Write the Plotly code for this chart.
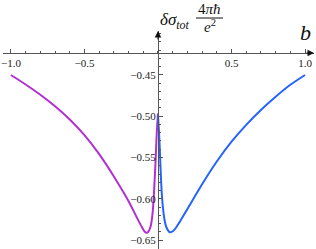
import plotly.graph_objects as go

# ---- data ----
purple_b = [-1.0, -0.9, -0.8, -0.7, -0.6, -0.5, -0.4, -0.3, -0.2, -0.143,
            -0.109, -0.09, -0.075, -0.064, -0.048, -0.037, -0.030, -0.023, -0.016,
            -0.011, -0.005, 0.0]
purple_v = [-0.450, -0.4615, -0.474, -0.488, -0.504, -0.523, -0.546, -0.573, -0.603, -0.623,
            -0.6345, -0.640, -0.6412, -0.6395, -0.632, -0.618, -0.602, -0.578, -0.553,
            -0.530, -0.510, -0.4965]
blue_b = [0.0, 0.005, 0.010, 0.015, 0.020, 0.027, 0.035, 0.045, 0.057, 0.080, 0.107, 0.148,
          0.2, 0.3, 0.4, 0.5, 0.6, 0.7, 0.8, 0.9, 1.0]
blue_v = [-0.4985, -0.513, -0.530, -0.552, -0.574, -0.597, -0.613, -0.626, -0.6345, -0.6405, -0.6385, -0.628,
          -0.6124, -0.5824, -0.5549, -0.5309, -0.5104, -0.4924, -0.4764, -0.4619, -0.450]
x_ticks = [-1.0, -0.5, 0.5, 1.0]
x_ticktext = ["\u22121.0", "\u22120.5", "0.5", "1.0"]
y_ticks = [-0.45, -0.50, -0.55, -0.60, -0.65]

# ---- layout geometry ----
W, H = 316, 249
ML, MR, MT, MB = 3, 2, 31, 0
XR = [-1.054, 1.061]
YR = [-0.6609, -0.3967]
x_axis_at = -0.4233
pw, ph = W - ML - MR, H - MT - MB

def px(x):
    return (x - ML) / pw

def py(y):
    return (H - MB - y) / ph

FONT = "Liberation Serif"
AX = "#555555"
TXT = "#1a1a1a"

fig = go.Figure()
fig.add_trace(go.Scatter(x=purple_b, y=purple_v, mode="lines",
                         line=dict(color="#B22FD2", width=2, shape="spline", smoothing=0.8),
                         hoverinfo="skip"))
fig.add_trace(go.Scatter(x=blue_b, y=blue_v, mode="lines",
                         line=dict(color="#2563FF", width=2, shape="spline", smoothing=0.8),
                         hoverinfo="skip"))

fig.update_layout(
    width=W, height=H, margin=dict(l=ML, r=MR, t=MT, b=MB, autoexpand=False),
    plot_bgcolor="white", paper_bgcolor="white", showlegend=False,
    font=dict(family=FONT, size=11, color=TXT),
    xaxis=dict(range=XR, anchor="free", position=(x_axis_at - YR[0]) / (YR[1] - YR[0]),
               automargin=False,
               showgrid=False, zeroline=False, showline=True, linecolor=AX, linewidth=1,
               tickmode="array", tickvals=x_ticks, ticktext=x_ticktext,
               ticks="inside", ticklen=4, tickcolor=AX,
               minor=dict(ticks="inside", ticklen=2, tickcolor=AX, tickmode="linear",
                          tick0=0, dtick=0.1, showgrid=False),
               tickfont=dict(family=FONT, size=11, color=TXT)),
    yaxis=dict(range=YR, anchor="free", position=(0 - XR[0]) / (XR[1] - XR[0]),
               automargin=False,
               showgrid=False, zeroline=False, showline=True, linecolor=AX, linewidth=1,
               tickmode="array", tickvals=y_ticks, tickformat=".2f",
               ticks="inside", ticklen=4, tickcolor=AX,
               minor=dict(ticks="inside", ticklen=2, tickcolor=AX, tickmode="linear",
                          tick0=-0.45, dtick=0.01, showgrid=False),
               tickfont=dict(family=FONT, size=11, color=TXT)),
)

# axis arrows
fig.add_annotation(x=XR[1], y=x_axis_at, xref="x", yref="y", ax=-9, ay=0, text="",
                   showarrow=True, arrowhead=2, arrowsize=1.3, arrowwidth=1, arrowcolor="#111111")
fig.add_annotation(x=0, y=YR[1], xref="x", yref="y", ax=0, ay=10, text="",
                   showarrow=True, arrowhead=2, arrowsize=1.3, arrowwidth=1, arrowcolor="#111111")

# axis labels
def label(text, x, y, size):
    fig.add_annotation(x=px(x), y=py(y), xref="paper", yref="paper", showarrow=False,
                       xanchor="center", yanchor="middle", text=text,
                       font=dict(family=FONT, size=size, color="#111111"))

label("<i>δσ</i><sub><i>tot</i></sub>", 175, 21, 17)
label("4<i>πħ</i>", 209, 9, 15)
label("<i>e</i><sup>2</sup>", 210, 26, 15)
fig.add_shape(type="line", xref="paper", yref="paper", x0=px(196), x1=px(223), y0=py(18), y1=py(18),
              line=dict(color="#111111", width=1))
label("<i>b</i>", 305, 33, 22)

fig.write_html("out.html", config={"displayModeBar": False},
               post_script="document.body.style.margin='0';document.body.style.padding='0';")
